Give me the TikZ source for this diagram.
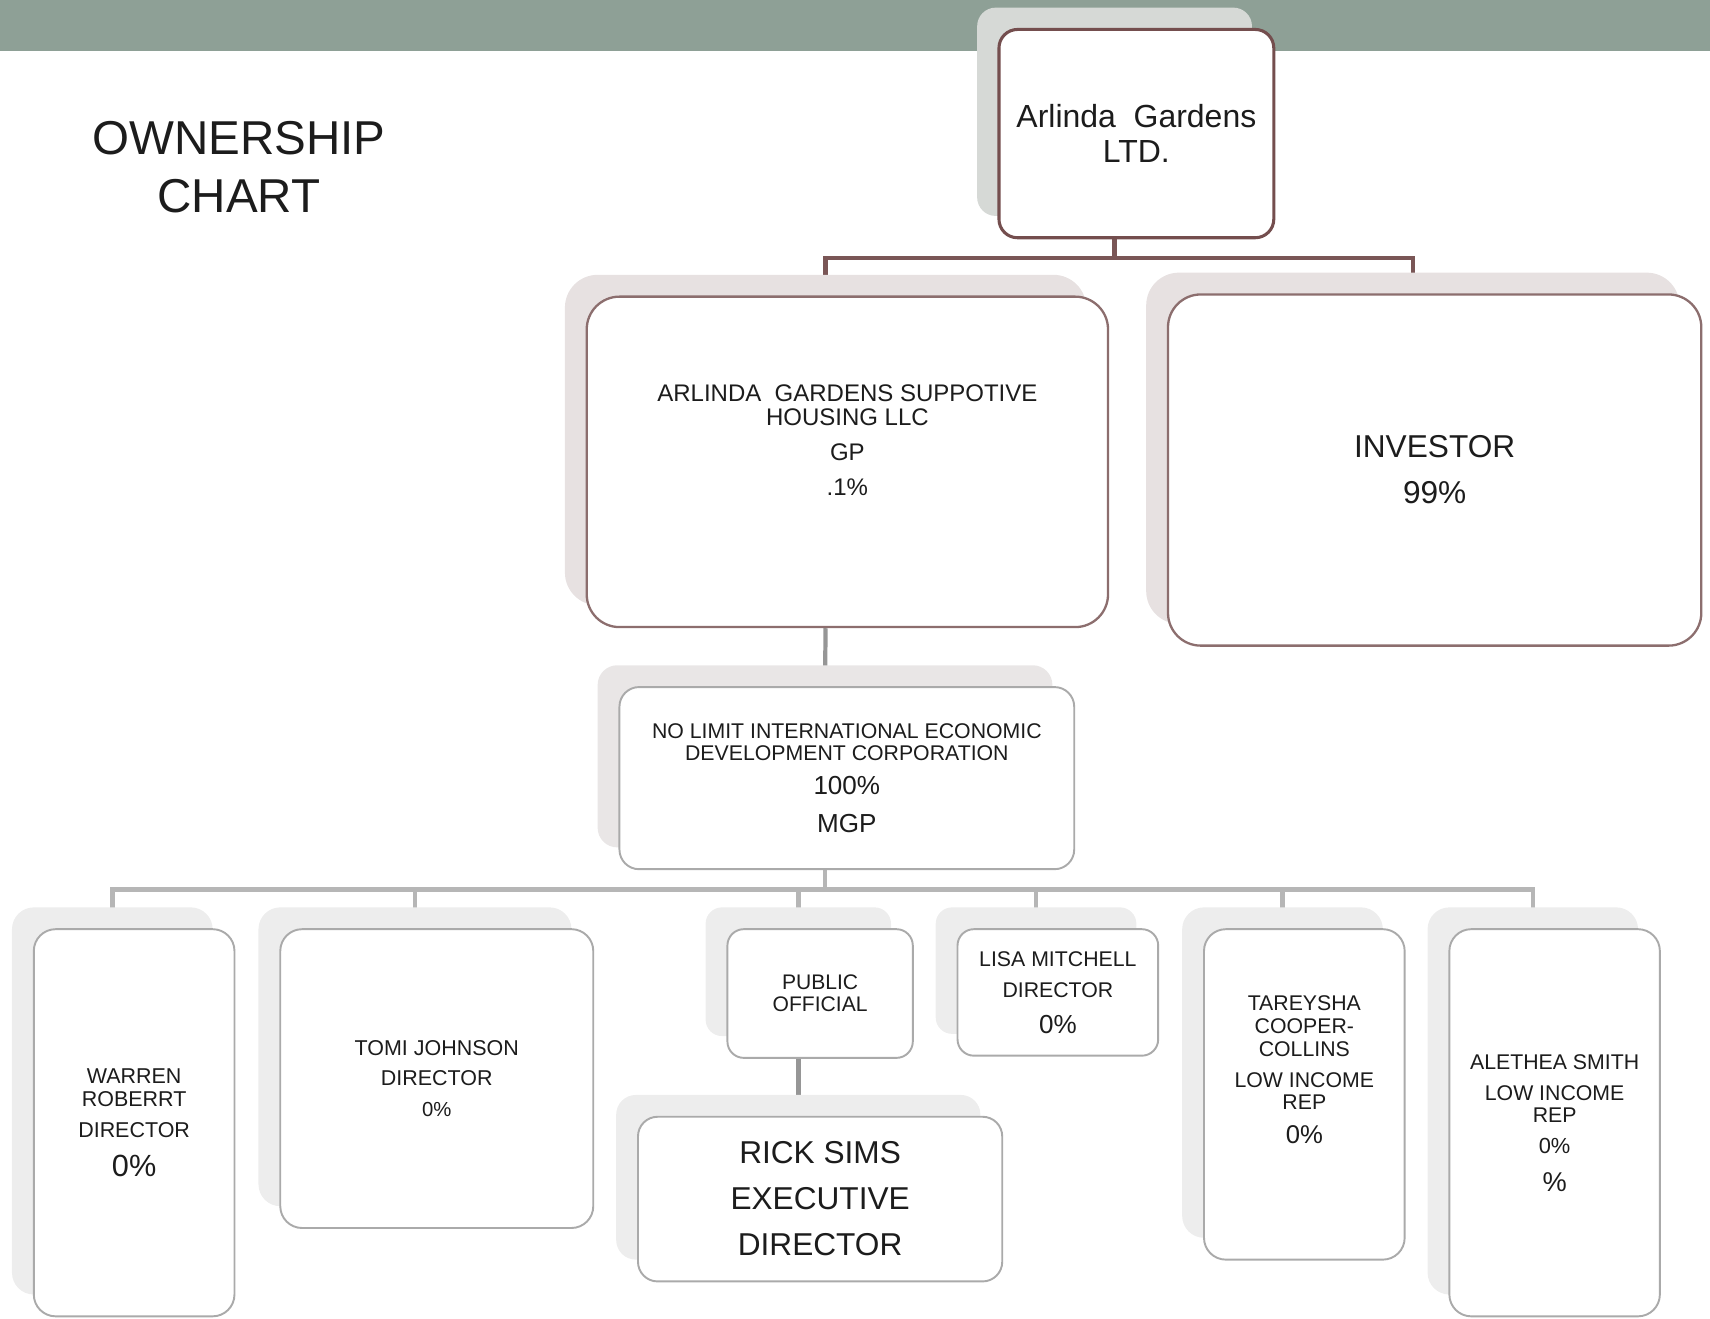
\documentclass[tikz,border=0pt]{standalone}
\usepackage{fontspec}
\setmainfont{Liberation Sans}
\usetikzlibrary{shadows, backgrounds}
\definecolor{bandgreen}{RGB}{142,160,150}
\definecolor{ownbrown}{RGB}{122,86,86}
\definecolor{edgebrown}{RGB}{116,78,78}
\definecolor{gpbrown}{RGB}{140,110,110}
\definecolor{busgray}{RGB}{182,182,182}
\definecolor{stemgray}{RGB}{150,150,150}
\definecolor{edgegray}{RGB}{170,170,170}
\definecolor{inkgray}{RGB}{28,28,28}
\definecolor{topshade}{RGB}{214,217,214}
\definecolor{gpshade}{RGB}{231,225,225}
\definecolor{mgpshade}{RGB}{233,230,230}
\definecolor{lowshade}{RGB}{237,237,237}
\newcommand{\setfs}[2]{\fontsize{#1}{#2}\selectfont}

\begin{document}
\begin{tikzpicture}[
  card/.style={draw=edgegray, line width=0.5pt, fill=white, rounded corners=0.2cm,
    align=center, inner sep=0pt, text=inkgray},
  stack/.style={copy shadow={shadow xshift=-0.2cm, shadow yshift=0.2cm,
    draw=none, fill=#1}},
  ownline/.style={ownbrown, line width=1.1pt},
  stemline/.style={stemgray, line width=1.1pt},
  busline/.style={busgray, line width=1.2pt}]

  \useasboundingbox (0,0) rectangle (15.68,-12.09);

  \node[font=\setfs{12.4}{15.1}, text=inkgray, align=center] (title) at (2.19,-1.535)
    {OWNERSHIP\\ CHART};

  % partnership
  \node[card, stack=topshade, draw=edgebrown, line width=0.8pt,
    rounded corners=0.17cm, minimum width=2.52cm, minimum height=1.91cm,
    font=\setfs{8.34}{9.1}] (top) at (10.42,-1.225)
    {Arlinda\ \ Gardens\\ LTD.};
  \node[card, stack=gpshade, draw=gpbrown, line width=0.6pt,
    rounded corners=0.3cm, minimum width=4.78cm, minimum height=3.03cm,
    font=\setfs{6.26}{6.5}] (gp) at (7.77,-4.235)
    {ARLINDA\ \ GARDENS SUPPOTIVE\\ HOUSING LLC\\[2.6pt] GP\\[2.6pt] .1\%\\[4.9pt] \mbox{}};
  \node[card, stack=gpshade, draw=gpbrown, line width=0.6pt,
    rounded corners=0.3cm, minimum width=4.89cm, minimum height=3.22cm,
    font=\setfs{8.25}{12}] (inv) at (13.155,-4.31)
    {INVESTOR\\ 99\%};

  % managing partner
  \node[card, stack=mgpshade, rounded corners=0.18cm,
    minimum width=4.17cm, minimum height=1.67cm, font=\setfs{5.55}{5.7}] (mgp) at (7.765,-7.135)
    {NO LIMIT INTERNATIONAL ECONOMIC\\ DEVELOPMENT CORPORATION\\[3.3pt]
     {\setfs{6.8}{8}100\%}\\[4.26pt] {\setfs{6.8}{8}MGP}};

  % board
  \node[card, stack=lowshade, minimum width=1.84cm, minimum height=3.55cm,
    font=\setfs{5.6}{6}] (war) at (1.23,-10.295)
    {WARREN\\ ROBERRT\\[2pt] DIRECTOR\\[4.2pt] {\setfs{8}{8}0\%}};
  \node[card, stack=lowshade, minimum width=2.87cm, minimum height=2.74cm,
    font=\setfs{5.6}{8}] (tomi) at (4.005,-9.89)
    {TOMI JOHNSON\\ DIRECTOR\\ {\setfs{5.3}{8}0\%}};
  \node[card, stack=lowshade, rounded corners=0.15cm, minimum width=1.70cm, minimum height=1.18cm,
    font=\setfs{5.5}{5.7}] (pub) at (7.52,-9.11)
    {PUBLIC\\ OFFICIAL};
  \node[card, stack=lowshade, rounded corners=0.18cm, minimum width=3.34cm, minimum height=1.51cm,
    font=\setfs{8.25}{12}] (rick) at (7.52,-10.995)
    {RICK SIMS\\ EXECUTIVE\\ DIRECTOR};
  \node[card, stack=lowshade, rounded corners=0.15cm, minimum width=1.84cm, minimum height=1.16cm,
    font=\setfs{5.55}{8.25}] (lisa) at (9.70,-9.10)
    {LISA MITCHELL\\ DIRECTOR\\[1.05pt] {\setfs{6.8}{8}0\%}};
  \node[card, stack=lowshade, minimum width=1.84cm, minimum height=3.03cm,
    font=\setfs{5.55}{6}] (tar) at (11.96,-10.035)
    {TAREYSHA\\ COOPER-\\ COLLINS\\[2pt] LOW INCOME\\[-0.3pt] REP\\[2.9pt]
     {\setfs{6.7}{8}0\%}\\[7pt] \mbox{}};
  \node[card, stack=lowshade, minimum width=1.93cm, minimum height=3.55cm,
    font=\setfs{5.55}{5.7}] (ale) at (14.255,-10.295)
    {ALETHEA SMITH\\[2.55pt] LOW INCOME\\ REP\\[2.27pt] {\setfs{5.7}{6}0\%}\\[4.2pt]
     {\setfs{7.1}{8}\%}};

  % band and connectors go behind the cards
  \begin{pgfonlayer}{background}
    \fill[bandgreen] (0,0) rectangle (15.68,-0.47);
    \draw[ownline] ([xshift=-2mm]top.south) -- ++(0,-0.17) -| ([xshift=-2mm]gp.north);
    \draw[ownline] ([xshift=-2mm]top.south) -- ++(0,-0.17) -| ([xshift=-2mm]inv.north);
    \draw[stemline] ([xshift=-2mm]gp.south) -- ([xshift=-2mm]mgp.north);
    \foreach \n in {war, tomi, pub, lisa, tar, ale}
      \draw[busline] ([xshift=-2mm]mgp.south) -- ++(0,-0.18) -| ([xshift=-2mm]\n.north);
    \draw[stemline, line width=1.3pt] ([xshift=-2mm]pub.south) -- ([xshift=-2mm]rick.north);
  \end{pgfonlayer}
\end{tikzpicture}
\end{document}
